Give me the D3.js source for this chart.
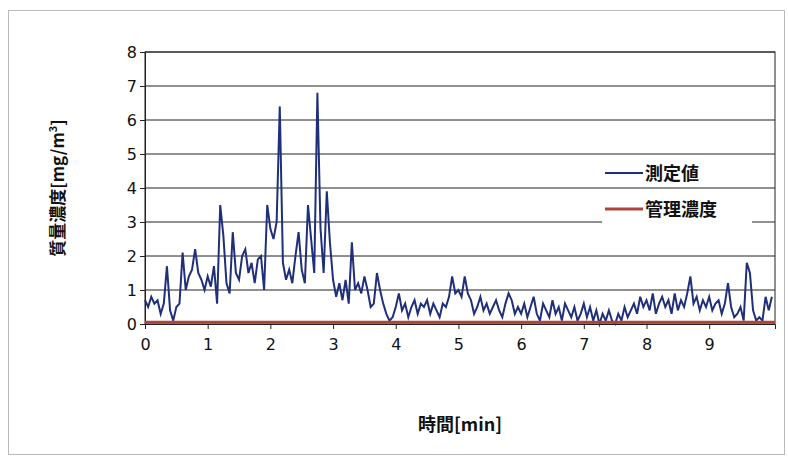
<!DOCTYPE html>
<html>
<head>
<meta charset="utf-8">
<style>
body { margin: 0; background: #fff; }
text { font-family: "Noto Sans CJK JP", "DejaVu Sans", sans-serif; }
</style>
</head>
<body>
<svg id="chart" width="788" height="459"></svg>
<script src="https://cdn.jsdelivr.net/npm/d3@7"></script>
<script>
// measured concentration, one value every 0.05 min
var measured = [
  0.7,0.5,0.8,0.6,0.7,0.3,0.6,1.7,0.4,0.1,0.5,0.6,2.1,1.0,1.4,1.6,2.2,1.5,1.3,1.0,
  1.4,1.1,1.7,0.6,3.5,2.6,1.2,0.9,2.7,1.5,1.3,2.0,2.2,1.5,1.8,1.2,1.9,2.0,1.0,3.5,
  2.8,2.5,3.0,6.4,1.8,1.3,1.6,1.2,2.0,2.7,1.6,1.2,3.5,2.5,1.5,6.8,2.8,1.5,3.9,2.4,
  1.3,0.8,1.2,0.7,1.3,0.6,2.4,1.0,1.2,0.9,1.4,1.0,0.5,0.6,1.5,1.0,0.6,0.3,0.1,0.2,
  0.5,0.9,0.4,0.6,0.2,0.5,0.7,0.3,0.6,0.5,0.7,0.3,0.6,0.4,0.2,0.6,0.5,0.8,1.4,0.9,
  1.0,0.8,1.4,0.9,0.7,0.3,0.5,0.8,0.4,0.6,0.3,0.5,0.7,0.4,0.2,0.6,0.9,0.7,0.3,0.5,
  0.3,0.6,0.2,0.5,0.8,0.3,0.1,0.6,0.4,0.2,0.7,0.3,0.5,0.1,0.6,0.4,0.2,0.5,0.1,0.3,
  0.6,0.2,0.5,0.1,0.4,0.0,0.3,0.1,0.4,0.1,0.0,0.3,0.1,0.5,0.2,0.4,0.6,0.3,0.8,0.5,
  0.7,0.4,0.9,0.3,0.6,0.8,0.5,0.7,0.3,0.9,0.4,0.7,0.5,0.9,1.4,0.6,0.8,0.4,0.7,0.5,
  0.8,0.4,0.6,0.7,0.3,0.6,1.2,0.5,0.2,0.3,0.5,0.1,1.8,1.5,0.4,0.1,0.2,0.1,0.8,0.4,0.8
];
var step = 0.05;
var limitValue = 0.05;
var xTicks = [0,1,2,3,4,5,6,7,8,9];
var yTicks = [0,1,2,3,4,5,6,7,8];
var seriesNames = ["測定値", "管理濃度"];

var svg = d3.select('#chart');
svg.append('rect').attr('x', 8.5).attr('y', 10.5).attr('width', 776).attr('height', 444)
  .attr('fill', '#fff').attr('stroke', '#bbb');

var pl = 145, pr = 775, pt = 52, pb = 324;
var x = d3.scaleLinear().domain([0, 10.05]).range([pl, pr]);
var y = d3.scaleLinear().domain([0, 8]).range([pb, pt]);

// grid
svg.append('g').selectAll('line').data(yTicks.slice(1)).enter().append('line')
  .attr('x1', pl).attr('x2', pr)
  .attr('y1', function (d) { return y(d); }).attr('y2', function (d) { return y(d); })
  .attr('stroke', '#222').attr('stroke-width', 1);
svg.append('rect').attr('x', pl).attr('y', pt).attr('width', pr - pl).attr('height', pb - pt)
  .attr('fill', 'none').attr('stroke', '#222');

// axes
var xAxis = svg.append('g').attr('transform', 'translate(0,' + pb + ')')
  .call(d3.axisBottom(x).tickValues(xTicks).tickSize(5).tickFormat(d3.format('d')));
var yAxis = svg.append('g').attr('transform', 'translate(' + pl + ',0)')
  .call(d3.axisLeft(y).tickValues(yTicks).tickSize(5).tickFormat(d3.format('d')));
[xAxis, yAxis].forEach(function (a) {
  a.select('.domain').attr('stroke', '#222');
  a.selectAll('.tick line').attr('stroke', '#222');
  a.selectAll('text').attr('font-size', 16).attr('fill', '#111')
    .style('font-family', '"DejaVu Sans", sans-serif');
});
xAxis.selectAll('text').attr('dy', '1.1em');

// series
var line = d3.line()
  .x(function (d, i) { return x(i * step); })
  .y(function (d) { return y(d); });
svg.append('path').datum(measured).attr('d', line)
  .attr('fill', 'none').attr('stroke', '#1f2f7a').attr('stroke-width', 2);
svg.append('line').attr('x1', pl).attr('x2', pr)
  .attr('y1', y(limitValue)).attr('y2', y(limitValue))
  .attr('stroke', '#b0443a').attr('stroke-width', 3);

// legend
var colors = ['#1f2f7a', '#b0443a'];
var widths = [2, 3];
var lg = svg.append('g').selectAll('g').data(seriesNames).enter().append('g')
  .attr('transform', function (d, i) { return 'translate(605,' + (173 + i * 36) + ')'; });
lg.append('rect').attr('x', -3).attr('y', -14).attr('width', 150).attr('height', 28).attr('fill', '#fff');
lg.append('line').attr('x1', 0).attr('x2', 38).attr('y1', 0).attr('y2', 0)
  .attr('stroke', function (d, i) { return colors[i]; })
  .attr('stroke-width', function (d, i) { return widths[i]; });
lg.append('text').attr('x', 40).attr('y', 7).attr('font-size', 18).attr('font-weight', 'bold')
  .attr('fill', '#111').text(function (d) { return d; });

// titles
svg.append('text').attr('transform', 'translate(64,188) rotate(-90)')
  .attr('text-anchor', 'middle').attr('font-size', 17).attr('font-weight', 'bold').attr('fill', '#111')
  .html('質量濃度[mg/m<tspan dy="-7" font-size="11">3</tspan><tspan dy="7">]</tspan>');
svg.append('text').attr('x', 460).attr('y', 431).attr('text-anchor', 'middle')
  .attr('font-size', 18).attr('font-weight', 'bold').attr('fill', '#111').text('時間[min]');
</script>
</body>
</html>
